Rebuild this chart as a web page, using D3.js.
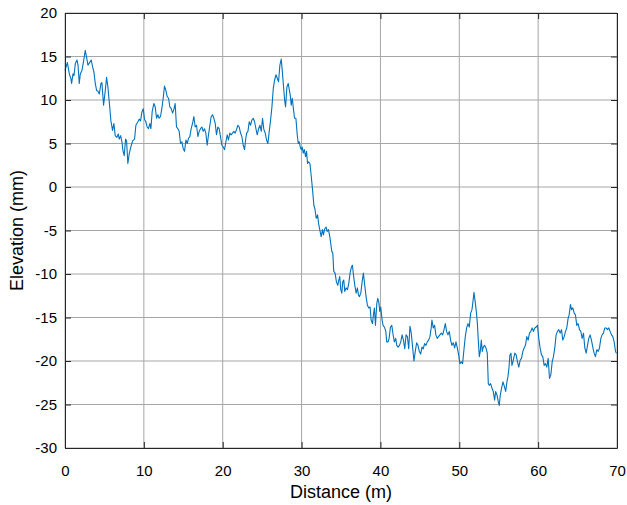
<!DOCTYPE html>
<html>
<head>
<meta charset="utf-8">
<script src="https://cdn.jsdelivr.net/npm/d3@7"></script>
<style>
  html, body { margin: 0; padding: 0; background: #fff; }
  svg { display: block; font-family: "Liberation Sans", Arial, Helvetica, sans-serif; }
</style>
</head>
<body>
<svg id="chart" width="627" height="505"></svg>
<script>
// Surface profile: distance along the track (m) and elevation (mm)
const distanceM = [
  0.00, 0.30, 0.55, 0.76, 0.84, 1.01, 1.14, 1.31, 1.52, 1.65, 1.81, 1.94, 2.15, 2.36, 2.57, 2.74, 2.91, 3.12, 3.33, 3.50,
  3.67, 3.84, 4.01, 4.18, 4.35, 4.56, 4.68, 4.89, 5.11, 5.27, 5.44, 5.65, 5.82, 6.03, 6.20, 6.37, 6.58, 6.75, 6.88, 7.05,
  7.22, 7.34, 7.51, 7.68, 7.81, 7.97, 8.14, 8.35, 8.57, 8.82, 8.99, 9.24, 9.41, 9.58, 9.75, 9.92, 10.08, 10.25, 10.42, 10.59,
  10.76, 10.89, 11.06, 11.27, 11.44, 11.61, 11.77, 11.94, 12.11, 12.28, 12.45, 12.62, 12.79, 12.96, 13.13, 13.30, 13.47, 13.64, 13.80, 13.97,
  14.14, 14.31, 14.48, 14.65, 14.82, 14.99, 15.16, 15.33, 15.50, 15.66, 15.83, 16.00, 16.17, 16.34, 16.51, 16.68, 16.85, 17.02, 17.19, 17.36,
  17.52, 17.69, 17.86, 18.03, 18.20, 18.37, 18.54, 18.71, 18.88, 19.05, 19.21, 19.38, 19.55, 19.72, 19.89, 20.06, 20.23, 20.40, 20.57, 20.73,
  20.90, 21.07, 21.24, 21.41, 21.58, 21.75, 21.92, 22.09, 22.26, 22.43, 22.60, 22.77, 22.90, 23.03, 23.20, 23.36, 23.53, 23.70, 23.87, 24.04,
  24.21, 24.38, 24.55, 24.72, 24.89, 25.05, 25.22, 25.39, 25.56, 25.73, 25.90, 26.07, 26.24, 26.41, 26.58, 26.75, 26.92, 27.08, 27.25, 27.42,
  27.55, 27.68, 27.85, 27.97, 28.14, 28.31, 28.44, 28.56, 28.69, 28.82, 28.94, 29.11, 29.28, 29.45, 29.58, 29.70, 29.83, 29.96, 30.08, 30.21,
  30.34, 30.51, 30.63, 30.76, 30.89, 31.06, 31.23, 31.39, 31.56, 31.69, 31.86, 32.03, 32.16, 32.35, 32.48, 32.65, 32.77, 32.94, 33.11, 33.24,
  33.41, 33.58, 33.70, 33.83, 33.96, 34.08, 34.25, 34.42, 34.59, 34.72, 34.84, 34.97, 35.10, 35.22, 35.35, 35.48, 35.65, 35.82, 35.98, 36.15,
  36.32, 36.45, 36.58, 36.75, 36.92, 37.08, 37.21, 37.34, 37.51, 37.68, 37.84, 38.01, 38.18, 38.35, 38.52, 38.69, 38.82, 38.99, 39.11, 39.24,
  39.37, 39.54, 39.66, 39.79, 39.92, 40.04, 40.21, 40.34, 40.51, 40.68, 40.80, 40.97, 41.10, 41.27, 41.44, 41.61, 41.77, 41.94, 42.07, 42.24,
  42.41, 42.58, 42.75, 42.92, 43.09, 43.25, 43.42, 43.59, 43.74, 43.91, 44.08, 44.25, 44.42, 44.59, 44.76, 44.93, 45.10, 45.27, 45.43, 45.60,
  45.77, 45.94, 46.11, 46.28, 46.45, 46.53, 46.70, 46.87, 47.03, 47.20, 47.37, 47.54, 47.71, 47.89, 48.06, 48.23, 48.39, 48.56, 48.73, 48.90,
  49.07, 49.24, 49.41, 49.58, 49.75, 49.92, 50.08, 50.25, 50.42, 50.59, 50.76, 50.93, 51.10, 51.27, 51.44, 51.61, 51.78, 51.86, 51.99, 52.16,
  52.28, 52.41, 52.54, 52.66, 52.79, 52.92, 53.04, 53.21, 53.38, 53.55, 53.68, 53.80, 53.97, 54.14, 54.31, 54.48, 54.61, 54.78, 54.95, 55.07,
  55.20, 55.37, 55.54, 55.71, 55.88, 56.04, 56.17, 56.30, 56.42, 56.55, 56.68, 56.85, 57.04, 57.21, 57.38, 57.55, 57.72, 57.89, 58.06, 58.22,
  58.39, 58.56, 58.73, 58.90, 59.07, 59.24, 59.41, 59.58, 59.75, 59.92, 60.08, 60.25, 60.42, 60.59, 60.76, 60.93, 61.10, 61.27, 61.44, 61.61,
  61.78, 61.94, 62.11, 62.28, 62.45, 62.62, 62.79, 62.96, 63.13, 63.30, 63.47, 63.63, 63.80, 63.93, 64.10, 64.23, 64.40, 64.57, 64.73, 64.90,
  65.07, 65.24, 65.41, 65.58, 65.75, 65.92, 66.09, 66.26, 66.42, 66.59, 66.76, 66.93, 67.10, 67.27, 67.44, 67.61, 67.78, 67.95, 68.11, 68.28,
  68.45, 68.62, 68.79, 68.96, 69.13, 69.30, 69.47, 69.64, 69.81, 69.93
];
const elevationMm = [
  13.4, 14.3, 13.0, 12.4, 11.9, 13.0, 12.8, 14.2, 14.6, 14.0, 11.9, 13.0, 13.4, 14.5, 15.7, 14.9, 14.0, 14.3, 14.6, 13.8,
  13.2, 11.9, 11.1, 11.0, 10.7, 11.9, 12.0, 9.4, 11.1, 12.6, 11.5, 9.4, 7.6, 6.5, 7.3, 5.9, 5.7, 6.1, 5.5, 5.9,
  5.2, 4.2, 3.6, 5.5, 5.3, 2.7, 3.8, 4.6, 5.3, 5.5, 7.1, 7.5, 7.8, 7.6, 8.6, 9.0, 7.8, 7.5, 6.9, 6.7,
  7.3, 6.7, 8.7, 9.6, 9.2, 7.9, 8.3, 7.9, 8.1, 9.0, 10.2, 11.6, 11.1, 10.4, 10.2, 9.2, 9.0, 8.5, 8.9, 9.6,
  6.9, 6.7, 6.4, 5.0, 5.2, 4.4, 4.1, 5.4, 5.0, 5.6, 5.8, 6.7, 7.3, 8.1, 6.9, 7.1, 5.8, 6.4, 6.7, 6.9,
  6.4, 6.7, 6.2, 4.8, 6.0, 7.1, 8.1, 8.3, 7.9, 7.3, 6.0, 6.9, 6.7, 5.8, 4.8, 4.6, 4.3, 5.2, 6.0, 5.4,
  6.2, 6.0, 6.2, 6.4, 6.2, 6.6, 7.1, 6.9, 6.2, 5.8, 4.8, 4.3, 5.4, 6.2, 6.4, 7.5, 7.1, 7.7, 7.9, 7.5,
  6.7, 6.0, 6.7, 7.1, 6.4, 7.9, 6.6, 6.2, 5.4, 5.0, 6.4, 7.7, 9.2, 11.3, 12.3, 12.9, 12.5, 12.1, 14.0, 14.7,
  13.4, 11.9, 10.0, 9.2, 11.5, 11.9, 11.2, 10.6, 9.4, 10.2, 9.2, 7.9, 7.9, 6.0, 5.0, 5.2, 4.6, 4.3, 4.6, 3.9,
  4.3, 3.5, 4.1, 2.7, 2.9, 2.7, 1.2, -0.3, -2.1, -2.5, -3.6, -3.2, -4.2, -5.1, -5.7, -4.9, -5.5, -4.8, -4.6, -5.1,
  -4.9, -5.7, -6.5, -7.4, -7.6, -9.7, -9.9, -10.9, -11.3, -10.7, -10.3, -11.8, -12.2, -10.9, -10.7, -12.0, -11.6, -11.8, -11.1, -9.9,
  -9.2, -9.0, -10.1, -11.3, -12.2, -11.6, -12.4, -12.6, -12.2, -10.9, -9.9, -11.3, -12.6, -13.6, -13.9, -13.8, -15.3, -15.7, -14.7, -13.9,
  -15.9, -13.4, -12.8, -13.2, -14.3, -13.8, -15.3, -15.9, -16.1, -16.6, -17.8, -17.8, -17.4, -16.1, -15.9, -17.0, -17.8, -17.4, -18.2, -18.4,
  -18.2, -17.8, -17.0, -17.6, -18.6, -17.0, -17.2, -18.6, -16.0, -16.8, -18.4, -20.0, -18.9, -17.9, -18.2, -18.9, -19.2, -18.4, -18.6, -18.0,
  -18.2, -17.8, -17.6, -17.2, -16.1, -15.3, -16.2, -15.9, -17.0, -17.4, -17.2, -17.0, -16.8, -17.0, -16.4, -15.7, -16.6, -17.0, -16.6, -17.6,
  -18.2, -17.9, -18.5, -17.8, -18.5, -19.3, -20.3, -20.1, -20.3, -18.7, -17.2, -16.2, -15.7, -16.1, -14.5, -14.1, -12.8, -12.1, -13.0, -14.3,
  -15.5, -17.6, -19.5, -18.9, -17.6, -18.9, -18.4, -18.2, -18.5, -19.1, -22.6, -22.8, -22.6, -23.1, -23.5, -24.5, -23.5, -23.9, -24.7, -25.1,
  -23.9, -23.1, -22.4, -22.9, -23.5, -22.4, -21.8, -20.8, -19.3, -19.1, -20.5, -19.9, -19.1, -19.3, -20.1, -20.7, -19.9, -19.7, -18.9, -18.5,
  -18.2, -17.2, -17.6, -16.8, -16.6, -16.2, -16.6, -16.2, -16.1, -15.9, -17.4, -18.5, -19.3, -19.5, -20.5, -20.3, -20.7, -19.7, -22.0, -21.6,
  -20.1, -19.5, -18.5, -17.0, -16.6, -16.4, -16.8, -16.4, -17.6, -17.2, -16.6, -16.2, -15.1, -14.7, -13.5, -14.1, -13.9, -14.5, -14.7, -15.9,
  -15.7, -16.4, -16.6, -17.4, -16.8, -18.5, -19.1, -18.2, -17.4, -17.0, -17.6, -18.4, -19.1, -19.5, -18.7, -18.9, -18.5, -17.4, -17.0, -16.8,
  -16.2, -16.2, -16.4, -16.2, -16.6, -17.0, -17.2, -17.8, -18.9, -19.1
];

// Axis ticks and titles
const xTicks = [0, 10, 20, 30, 40, 50, 60, 70];
const yTicks = [-30, -25, -20, -15, -10, -5, 0, 5, 10, 15, 20];
const xTitle = "Distance (m)";
const yTitle = "Elevation (mm)";

const W = 627, H = 505;
const margin = { top: 13, right: 10, bottom: 57, left: 65 };
const iw = W - margin.left - margin.right;
const ih = H - margin.top - margin.bottom;

const svg = d3.select("#chart");
const g = svg.append("g").attr("transform", `translate(${margin.left},${margin.top})`);

const x = d3.scaleLinear().domain([0, 70]).range([0, iw]);
const y = d3.scaleLinear().domain([-30, 20]).range([ih, 0]);

const axisColor = "#262626";
const gridColor = "#a6a6a6";

// Grid lines
g.append("g").selectAll("line.gx").data(xTicks).join("line")
  .attr("x1", d => x(d)).attr("x2", d => x(d))
  .attr("y1", 0).attr("y2", ih)
  .attr("stroke", gridColor).attr("stroke-width", 1);
g.append("g").selectAll("line.gy").data(yTicks).join("line")
  .attr("x1", 0).attr("x2", iw)
  .attr("y1", d => y(d)).attr("y2", d => y(d))
  .attr("stroke", gridColor).attr("stroke-width", 1);

// Profile line
const pts = distanceM.map((d, i) => [d, elevationMm[i]]);
g.append("path")
  .datum(pts)
  .attr("fill", "none")
  .attr("stroke", "#0072BD")
  .attr("stroke-width", 1.1)
  .attr("stroke-linejoin", "round")
  .attr("d", d3.line().x(d => x(d[0])).y(d => y(d[1])));

// Axes with inward ticks on all four sides
const fmt = d => String(d);
const styleAxis = sel => {
  sel.select(".domain").attr("stroke", axisColor).attr("stroke-width", 1);
  sel.selectAll(".tick line").attr("stroke", axisColor).attr("stroke-width", 1);
  sel.selectAll(".tick text").attr("fill", "#000").attr("font-size", 15)
    .attr("font-family", "'Liberation Sans', Arial, Helvetica, sans-serif");
};

g.append("g").attr("transform", `translate(0,${ih})`)
  .call(d3.axisBottom(x).tickValues(xTicks).tickFormat(fmt).tickSize(-6).tickSizeOuter(0).tickPadding(17))
  .call(styleAxis);
g.append("g")
  .call(d3.axisTop(x).tickValues(xTicks).tickFormat("").tickSize(-6).tickSizeOuter(0))
  .call(styleAxis);
g.append("g")
  .call(d3.axisLeft(y).tickValues(yTicks).tickFormat(fmt).tickSize(-6).tickSizeOuter(0).tickPadding(8))
  .call(styleAxis);
g.append("g").attr("transform", `translate(${iw},0)`)
  .call(d3.axisRight(y).tickValues(yTicks).tickFormat("").tickSize(-6).tickSizeOuter(0))
  .call(styleAxis);

// Axis titles
svg.append("text")
  .attr("x", margin.left + iw / 2).attr("y", 497.5)
  .attr("text-anchor", "middle")
  .attr("font-size", 18).attr("fill", "#000")
  .text(xTitle);
svg.append("text")
  .attr("transform", `translate(22.5,${margin.top + ih / 2}) rotate(-90)`)
  .attr("text-anchor", "middle")
  .attr("font-size", 18).attr("fill", "#000")
  .text(yTitle);
</script>
</body>
</html>
